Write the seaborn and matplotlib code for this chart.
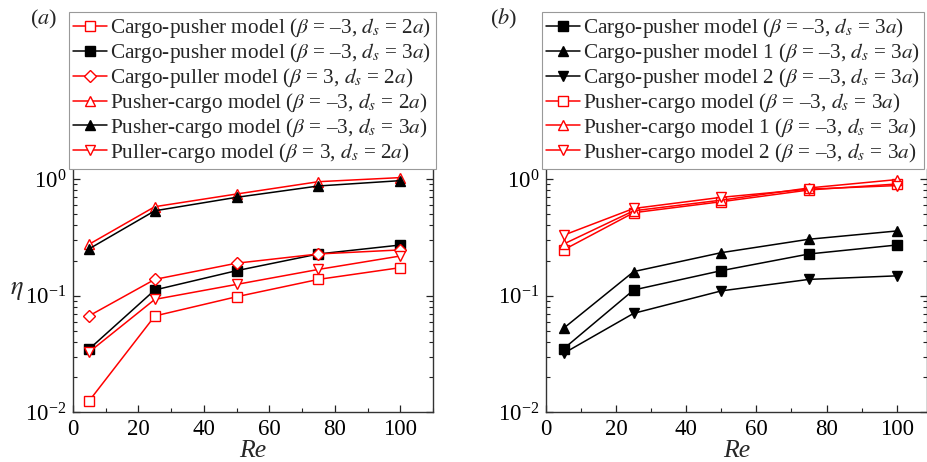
import matplotlib
matplotlib.use("Agg")
import matplotlib.pyplot as plt
import seaborn as sns
from matplotlib.ticker import LogLocator, MultipleLocator, NullFormatter

# Reynolds numbers
re_vals = [5, 25, 50, 75, 100]

# panel (a)
a_cargo_pusher_2a = [0.0126, 0.067, 0.098, 0.138, 0.174]
a_cargo_pusher_3a = [0.035, 0.112, 0.164, 0.228, 0.272]
a_cargo_puller_2a = [0.0674, 0.138, 0.19, 0.228, 0.247]
a_pusher_cargo_2a = [0.277, 0.58, 0.745, 0.95, 1.03]
a_pusher_cargo_3a = [0.253, 0.535, 0.698, 0.873, 0.97]
a_puller_cargo_2a = [0.033, 0.093, 0.125, 0.168, 0.219]

# panel (b)
b_cargo_pusher = [0.035, 0.112, 0.164, 0.228, 0.272]
b_cargo_pusher_1 = [0.0525, 0.161, 0.234, 0.305, 0.359]
b_cargo_pusher_2 = [0.032, 0.0706, 0.11, 0.138, 0.148]
b_pusher_cargo = [0.247, 0.515, 0.64, 0.807, 0.908]
b_pusher_cargo_1 = [0.277, 0.535, 0.66, 0.84, 0.99]
b_pusher_cargo_2 = [0.33, 0.56, 0.698, 0.82, 0.88]

labels_a = [
    r"Cargo-pusher model ($\beta$ = –3, $d_s$ = 2$a$)",
    r"Cargo-pusher model ($\beta$ = –3, $d_s$ = 3$a$)",
    r"Cargo-puller model ($\beta$ = 3, $d_s$ = 2$a$)",
    r"Pusher-cargo model ($\beta$ = –3, $d_s$ = 2$a$)",
    r"Pusher-cargo model ($\beta$ = –3, $d_s$ = 3$a$)",
    r"Puller-cargo model ($\beta$ = 3, $d_s$ = 2$a$)",
]
labels_b = [
    r"Cargo-pusher model ($\beta$ = –3, $d_s$ = 3$a$)",
    r"Cargo-pusher model 1 ($\beta$ = –3, $d_s$ = 3$a$)",
    r"Cargo-pusher model 2 ($\beta$ = –3, $d_s$ = 3$a$)",
    r"Pusher-cargo model ($\beta$ = –3, $d_s$ = 3$a$)",
    r"Pusher-cargo model 1 ($\beta$ = –3, $d_s$ = 3$a$)",
    r"Pusher-cargo model 2 ($\beta$ = –3, $d_s$ = 3$a$)",
]

RED = "#ff0000"
BLK = "black"

series_a = [
    (a_cargo_pusher_2a, RED, "s", False),
    (a_cargo_pusher_3a, BLK, "s", True),
    (a_cargo_puller_2a, RED, "D", False),
    (a_pusher_cargo_2a, RED, "^", False),
    (a_pusher_cargo_3a, BLK, "^", True),
    (a_puller_cargo_2a, RED, "v", False),
]
series_b = [
    (b_cargo_pusher, BLK, "s", True),
    (b_cargo_pusher_1, BLK, "^", True),
    (b_cargo_pusher_2, BLK, "v", True),
    (b_pusher_cargo, RED, "s", False),
    (b_pusher_cargo_1, RED, "^", False),
    (b_pusher_cargo_2, RED, "v", False),
]

sns.set_theme(style="ticks")
plt.rcParams["font.family"] = ["Liberation Serif", "DejaVu Serif"]
plt.rcParams["mathtext.fontset"] = "stix"
plt.rcParams["font.size"] = 14

fig = plt.figure(figsize=(9.28, 4.62), dpi=100)
W, H = 928, 462


def px_axes(x0, x1, y_top, y_bot):
    return fig.add_axes([x0 / W, 1 - y_bot / H, (x1 - x0) / W, (y_bot - y_top) / H])


ax_a = px_axes(73, 433, 169, 412.3)
ax_b = px_axes(546, 926.5, 169, 412.3)


def draw(ax, series, labels, xmax):
    for (vals, col, mk, filled), lab in zip(series, labels):
        ms = 6.5 if mk == "D" else 7.5
        sns.lineplot(x=re_vals, y=vals, ax=ax, color=col, linewidth=1.1,
                     marker=mk, markersize=ms,
                     markerfacecolor=col if filled else "white",
                     markeredgecolor=col, markeredgewidth=1.0,
                     label=lab)
    ax.set_yscale("log")
    ax.set_ylim(1e-2, 10 ** ((412.3 - 169) / 116.6 - 2))
    ax.set_xlim(0, xmax)
    ax.xaxis.set_major_locator(MultipleLocator(20))
    ax.xaxis.set_minor_locator(MultipleLocator(10))
    ax.yaxis.set_major_locator(LogLocator(base=10, numticks=10))
    ax.yaxis.set_minor_locator(LogLocator(base=10, subs=range(2, 10), numticks=10))
    ax.yaxis.set_minor_formatter(NullFormatter())
    ax.tick_params(which="both", direction="in", right=True, top=False,
                   labelsize=16.5, colors="#222222", labelcolor="black")
    ax.tick_params(which="major", length=5, width=0.9, pad=5)
    ax.tick_params(which="minor", length=3, width=0.8)
    for s in ["left", "right", "bottom"]:
        ax.spines[s].set_color("#333333")
        ax.spines[s].set_linewidth(1.0)
    ax.spines["top"].set_visible(False)
    ax.set_xlabel("Re", fontstyle="italic", fontsize=18.5, labelpad=0)
    ax.set_ylabel("")


draw(ax_a, series_a, labels_a, 110)
draw(ax_b, series_b, labels_b, (926.5 - 546) / 3.507)

ax_a.set_ylabel(r"$\eta$", fontsize=19, rotation=0, labelpad=6, va="center")

for ax, x0 in [(ax_a, 69), (ax_b, 541.7)]:
    leg = ax.legend(loc="lower left", bbox_to_anchor=(x0 / W, 1 - 169 / H),
                    bbox_transform=fig.transFigure, borderaxespad=0,
                    fontsize=15.3, frameon=True, fancybox=False,
                    framealpha=1, edgecolor="#999999", handlelength=1.6,
                    handletextpad=0.15, labelspacing=0.04, borderpad=0.2)
    leg.get_frame().set_linewidth(0.8)

fig.text(43.5 / W, 1 - 19 / H, r"($a$)", ha="center", va="center", fontsize=16)
fig.text(504 / W, 1 - 19 / H, r"($b$)", ha="center", va="center", fontsize=16)

fig.savefig("out.png", dpi=100)
